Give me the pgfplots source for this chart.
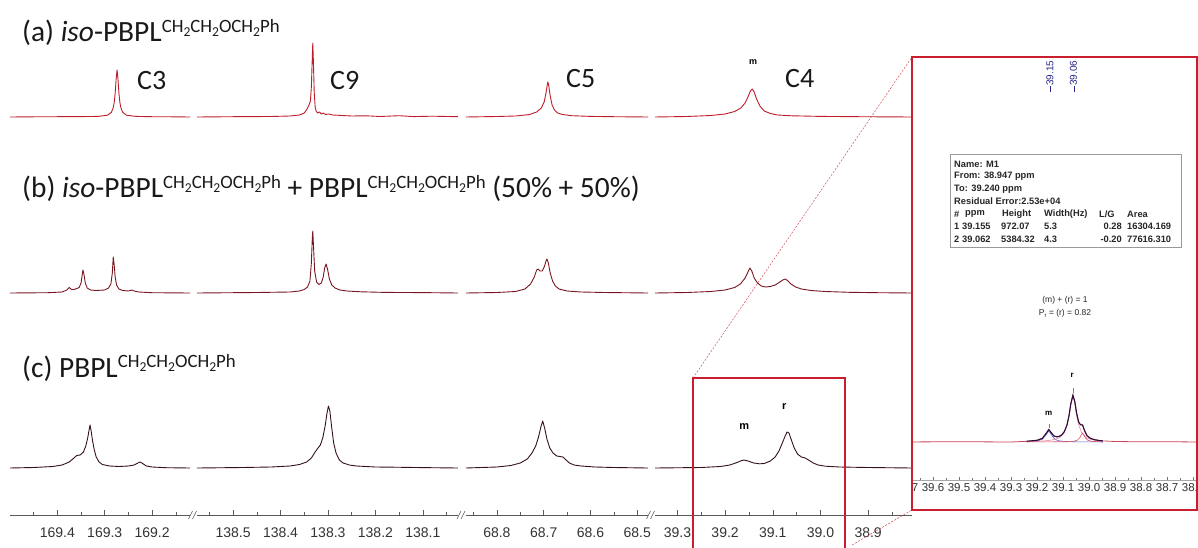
\documentclass[border=0pt]{standalone}
\usepackage{fontspec}
\setmainfont{Carlito}
\newfontfamily\arial{Liberation Sans}
\usepackage{pgfplots}
\pgfplotsset{compat=1.18}
\definecolor{specA}{RGB}{190,30,42}
\definecolor{specB}{RGB}{120,22,32}
\definecolor{specC}{RGB}{52,18,24}
\definecolor{boxred}{RGB}{200,30,45}
\definecolor{lblue}{RGB}{40,40,140}
\definecolor{sumcol}{RGB}{45,15,60}
\definecolor{expcol}{RGB}{200,70,85}
\definecolor{compb}{RGB}{90,100,210}
\definecolor{compr}{RGB}{230,140,170}
\definecolor{comps}{RGB}{225,80,95}
\newcommand{\two}{\raisebox{-3.7pt}{\fontsize{13.6}{13.6}\selectfont 2}}
\newcommand{\grp}{\raisebox{9.5pt}{\fontsize{18.8}{18.8}\selectfont CH\two CH\two OCH\two Ph}}
\pgfplotsset{mainpanel/.style={
  anchor=south west, scale only axis, height=515pt, ymin=0, ymax=515,
  x dir=reverse, axis x line=bottom, axis y line=none,
  x axis line style={-, draw=black!65, line width=0.6pt},
  tick align=inside, major tick length=5pt, minor tick length=3pt,
  tick style={black!65, line width=0.5pt},
  xticklabel style={font=\arial\fontsize{14}{14}\selectfont, text=black!80, yshift=-9pt},
  /pgf/number format/.cd, fixed, fixed zerofill, precision=1, assume math mode=true,
  /pgfplots/.cd, clip=false,
  every axis plot/.append style={line width=0.9pt, line join=round},
}}
\begin{document}
\begin{tikzpicture}[x=1pt,y=1pt]
\useasboundingbox (0,0) rectangle (1198,547);

% ---------------- Panel 1: C3 ----------------
\begin{axis}[mainpanel, at={(10pt,32pt)}, width=180pt, xmin=169.12, xmax=169.50,
  xtick={169.2,169.3,169.4}, minor xtick={169.15,169.25,169.35,169.45}]
\addplot[specA] table[x=ppm, y expr=\thisrow{h}+398] {
ppm h
169.50 0
169.45 0.2
169.40 0.3
169.35 0.4
169.314 0.6
169.294 1.8
169.286 4.7
169.282 9.4
169.280 14.5
169.278 23.5
169.276 37.6
169.274 47
169.272 37.6
169.270 23.5
169.268 14.5
169.266 9.4
169.262 4.7
169.254 1.8
169.234 0.6
169.20 0.3
169.16 0.2
169.12 0
};
\addplot[specB] table[x=ppm, y expr=\thisrow{h}+222] {
ppm h
169.50 0
169.42 0.3
169.39 1
169.380 3
169.375 5.5
169.370 3.5
169.365 3.5
169.359 4.5
169.354 5.5
169.350 10
169.347 20
169.346 23
169.344 19
169.341 10
169.337 5
169.330 3
169.318 2.5
169.300 3
169.292 5
169.287 9
169.284 20
169.282 36
169.280 28
169.278 16
169.275 8
169.270 4
169.262 2.5
169.250 2
169.243 3
169.238 2
169.228 1
169.20 0.3
169.12 0
};
\addplot[specC] table[x=ppm, y expr=\thisrow{h}+47] {
ppm h
169.50 0
169.45 0.5
169.41 1.5
169.39 3
169.375 6
169.365 10
169.359 12.5
169.352 13
169.345 16
169.340 22
169.336 30
169.333 38
169.331 43
169.329 38
169.326 28
169.322 18
169.318 11
169.312 6
169.305 3.5
169.29 2
169.27 1.5
169.25 2
169.238 3
169.230 5
169.225 6
169.220 4.5
169.212 2
169.20 1
169.17 0.3
169.12 0
};
\end{axis}

% ---------------- Panel 2: C9 ----------------
\begin{axis}[mainpanel, at={(197pt,32pt)}, width=261pt, xmin=138.026, xmax=138.576,
  xtick={138.1,138.2,138.3,138.4,138.5}, minor xtick={138.05,138.15,138.25,138.35,138.45,138.55}]
\addplot[specA] table[x=ppm, y expr=\thisrow{h}+398] {
ppm h
138.576 0
138.50 0.3
138.42 0.5
138.38 1
138.36 2
138.350 4
138.344 8
138.340 12
138.337 16
138.335 30
138.333 60
138.332 74
138.331 60
138.329 25
138.327 10
138.325 6
138.322 4
138.318 5
138.314 3
138.310 4
138.305 2.5
138.298 3
138.29 2
138.27 1.5
138.25 1
138.22 1.2
138.19 0.5
138.15 1.3
138.12 0.4
138.08 0.8
138.026 0.3
};
\addplot[specB] table[x=ppm, y expr=\thisrow{h}+222] {
ppm h
138.576 0
138.45 0.5
138.38 1
138.36 2
138.350 3.5
138.343 6
138.338 12
138.335 30
138.333 55
138.332 62
138.331 52
138.328 22
138.324 11
138.319 8.5
138.314 10
138.310 16
138.307 25
138.304 29
138.301 24
138.297 14
138.292 8
138.285 5
138.275 3
138.26 2
138.23 1.2
138.18 0.6
138.10 0.4
138.026 0
};
\addplot[specC] table[x=ppm, y expr=\thisrow{h}+47] {
ppm h
138.576 0
138.48 0.5
138.42 1
138.38 2
138.36 3.5
138.345 6
138.335 10
138.327 16
138.321 20
138.316 23
138.311 30
138.306 42
138.302 55
138.299 62
138.296 57
138.292 40
138.288 25
138.283 15
138.276 8
138.268 5
138.255 3
138.24 2
138.20 1
138.16 0.8
138.10 0.4
138.026 0
};
\end{axis}

% ---------------- Panel 3: C5 ----------------
\begin{axis}[mainpanel, at={(466pt,32pt)}, width=182pt, xmin=68.477, xmax=68.866,
  xtick={68.5,68.6,68.7,68.8}, minor xtick={68.55,68.65,68.75,68.85}]
\addplot[specA] table[x=ppm, y expr=\thisrow{h}+398] {
ppm h
68.866 0
68.80 0.5
68.76 1
68.73 2.5
68.715 5
68.705 9
68.699 15
68.695 24
68.692 33
68.691 35
68.689 31
68.686 21
68.682 12
68.677 7
68.670 4
68.66 2.5
68.64 1.3
68.60 0.6
68.55 0.3
68.477 0
};
\addplot[specB] table[x=ppm, y expr=\thisrow{h}+222] {
ppm h
68.866 0
68.80 0.5
68.76 1.5
68.74 4
68.728 9
68.720 16
68.715 23
68.712 24
68.708 22
68.703 22
68.698 27
68.695 32
68.693 34
68.690 30
68.686 20
68.681 12
68.675 7
68.667 4
68.65 2
68.62 1
68.57 0.5
68.477 0
};
\addplot[specC] table[x=ppm, y expr=\thisrow{h}+47] {
ppm h
68.866 0
68.80 1
68.77 2.5
68.75 5
68.735 9
68.725 15
68.717 22
68.711 31
68.706 41
68.702 47
68.698 40
68.693 29
68.687 20
68.680 15
68.672 12
68.665 11.5
68.659 11
68.652 8
68.645 5
68.635 3
68.62 2
68.59 1
68.55 0.5
68.477 0
};
\end{axis}

% ---------------- Panel 4: C4 ----------------
\begin{axis}[mainpanel, at={(655pt,32pt)}, width=257pt, xmin=38.808, xmax=39.347,
  xtick={38.9,39.0,39.1,39.2,39.3}, minor xtick={38.85,38.95,39.05,39.15,39.25}]
\addplot[specA] table[x=ppm, y expr=\thisrow{h}+398] {
ppm h
39.347 0
39.28 0.5
39.23 1.5
39.20 3
39.18 5.5
39.167 9
39.158 14
39.152 20
39.147 26
39.143 28
39.139 25
39.134 18
39.127 11
39.118 6
39.105 3.5
39.09 2
39.06 1.2
39.00 0.6
38.92 0.3
38.808 0
};
\addplot[specB] table[x=ppm, y expr=\thisrow{h}+222] {
ppm h
39.347 0
39.28 0.5
39.23 1.5
39.20 3
39.18 5.5
39.168 9
39.158 15
39.152 21
39.148 25
39.144 22
39.139 15
39.132 10
39.124 7
39.115 6
39.105 6.5
39.095 8
39.085 11
39.079 13
39.074 14
39.069 12.5
39.062 9
39.052 6
39.040 4
39.02 2.5
38.99 1.5
38.94 0.7
38.88 0.3
38.808 0
};
\addplot[specC] table[x=ppm, y expr=\thisrow{h}+47] {
ppm h
39.347 0
39.25 0.5
39.21 1.5
39.19 3
39.175 5.5
39.165 7.5
39.160 8
39.152 7
39.140 5
39.128 4.2
39.118 4.5
39.105 7
39.095 11
39.087 17
39.080 25
39.074 32
39.070 36
39.066 35
39.061 28
39.055 20
39.048 14
39.040 11
39.032 10
39.025 8
39.015 5
39.005 3
38.99 1.8
38.96 1
38.90 0.5
38.808 0
};
\node[font=\arial\bfseries\fontsize{9}{9}\selectfont] at (axis cs:39.141,453) {m};
\node[font=\arial\bfseries\fontsize{11}{11}\selectfont] at (axis cs:39.160,88) {m};
\node[font=\arial\bfseries\fontsize{11}{11}\selectfont] at (axis cs:39.076,108) {r};
\end{axis}

% axis breaks
\foreach \bx in {193.5,462,651.5} {
  \draw[black!65, line width=0.6pt] (\bx-5,28) -- (\bx-1,36);
  \draw[black!65, line width=0.6pt] (\bx-1,28) -- (\bx+3,36);
}

% titles
\begin{scope}[every node/.style={anchor=base west, inner sep=0, text=black!90}]
\node[font=\fontsize{29.4}{29.4}\selectfont] at (22,505) {(a) \textit{iso}-PBPL\grp};
\node[font=\fontsize{29.4}{29.4}\selectfont] at (22,349) {(b) \textit{iso}-PBPL\grp{} + PBPL\grp{} (50\% + 50\%)};
\node[font=\fontsize{29.4}{29.4}\selectfont] at (22,170) {(c) PBPL\grp};
\node[font=\fontsize{28}{28}\selectfont] at (137,457) {C3};
\node[font=\fontsize{28}{28}\selectfont] at (330,457) {C9};
\node[font=\fontsize{28}{28}\selectfont] at (566,459) {C5};
\node[font=\fontsize{28}{28}\selectfont] at (785,459) {C4};
\end{scope}

% ---------------- Inset ----------------
\fill[white] (912,37) rectangle (1197,490);
\begin{scope}
\clip (913,38) rectangle (1196,489);
\begin{axis}[anchor=south west, at={(900pt,67pt)}, scale only axis, width=298pt, height=100pt,
  xmin=38.581, xmax=39.727, x dir=reverse, ymin=0, ymax=100,
  axis x line=bottom, axis y line=none, clip=false,
  x axis line style={-, draw=black!35, line width=0.4pt},
  tick align=inside, major tick length=3pt, minor tick length=2pt,
  tick style={black!55, line width=0.4pt},
  xtick={38.6,38.7,38.8,38.9,39.0,39.1,39.2,39.3,39.4,39.5,39.6,39.7},
  minor xtick={38.65,38.75,38.85,38.95,39.05,39.15,39.25,39.35,39.45,39.55,39.65},
  xticklabel style={font=\arial\fontsize{11.5}{11.5}\selectfont, text=black!80, yshift=0pt},
  /pgf/number format/.cd, fixed, fixed zerofill, precision=1, assume math mode=true,
  /pgfplots/.cd]
\addplot[expcol, line width=0.8pt] table[x=ppm, y expr=\thisrow{h}+38] {
ppm h
39.727 0
39.50 0.3
39.30 0
39.24 0.7
39.20 1.7
39.18 3.6
39.165 8.6
39.155 12.5
39.145 9.2
39.135 6.0
39.125 5.2
39.115 5.6
39.105 7.1
39.095 10.4
39.085 16.9
39.077 26.5
39.070 38.4
39.062 46.8
39.055 40.5
39.048 28.9
39.040 20
39.033 17.3
39.025 17
39.017 11.2
39.008 6.4
38.995 3.7
38.98 2.35
38.96 1.45
38.947 1.1
38.90 0.5
38.80 0.2
38.70 0.3
38.581 0
};
\addplot[compb, line width=0.6pt] table[x=ppm, y expr=\thisrow{h}+38] {
ppm h
39.24 0.29
39.20 0.97
39.18 2.6
39.165 7.3
39.155 11
39.145 7.3
39.135 3.6
39.125 1.97
39.115 1.2
39.10 0.7
39.08 0.4
39.05 0.2
39.00 0.08
38.947 0.05
};
\addplot[compr, line width=0.6pt] table[x=ppm, y expr=\thisrow{h}+38] {
ppm h
39.24 0.41
39.20 0.69
39.177 0.98
39.145 1.85
39.125 3.1
39.115 4.3
39.105 6.2
39.095 9.6
39.084 17.2
39.076 27.4
39.069 39.4
39.062 46
39.055 39.4
39.048 27.4
39.040 17.2
39.029 9.6
39.019 6.2
39.009 4.3
38.999 3.1
38.979 1.85
38.947 0.98
};
\addplot[comps, line width=0.6pt] table[x=ppm, y expr=\thisrow{h}+38] {
ppm h
39.24 0.05
39.08 0.29
39.06 0.68
39.045 1.8
39.035 4.5
39.03 7.2
39.025 9
39.02 7.2
39.015 4.5
39.005 1.8
38.99 0.68
38.96 0.2
38.947 0.1
};
\addplot[sumcol, line width=1.1pt] table[x=ppm, y expr=\thisrow{h}+38] {
ppm h
39.24 0.72
39.20 1.7
39.18 3.6
39.165 8.6
39.155 12.5
39.145 9.2
39.135 6.0
39.125 5.2
39.115 5.6
39.105 7.1
39.095 10.4
39.085 16.9
39.077 26.5
39.070 38.4
39.062 46.8
39.055 40.5
39.048 28.9
39.040 20
39.033 17.3
39.025 17
39.017 11.2
39.008 6.4
38.995 3.7
38.98 2.35
38.96 1.45
38.947 1.13
};
\draw[black!50, line width=0.4pt] (axis cs:39.155,52) -- (axis cs:39.155,56);
\draw[black!50, line width=0.4pt] (axis cs:39.062,87) -- (axis cs:39.062,92);
\node[font=\arial\bfseries\fontsize{8}{8}\selectfont] at (axis cs:39.155,67) {m};
\node[font=\arial\bfseries\fontsize{8}{8}\selectfont] at (axis cs:39.065,105) {r};
\node[rotate=90, anchor=west, inner sep=0, text=lblue, font=\arial\fontsize{10}{10}\selectfont] at (axis cs:39.15,388) {\rule[0.25em]{6pt}{0.5pt}39.15};
\node[rotate=90, anchor=west, inner sep=0, text=lblue, font=\arial\fontsize{10}{10}\selectfont] at (axis cs:39.06,388) {\rule[0.25em]{6pt}{0.5pt}39.06};
\end{axis}
\end{scope}

% fit result box
\draw[black!40, line width=0.6pt, fill=white] (950,393) rectangle (1181,300);
\begin{scope}[every node/.style={inner sep=0, font=\arial\bfseries\fontsize{9.3}{9.3}\selectfont, text=black!85}]
\node[anchor=west] at (954,383) {Name: M1};
\node[anchor=west] at (954,370.5) {From: 38.947 ppm};
\node[anchor=west] at (954,358) {To: 39.240 ppm};
\node[anchor=west] at (954,345.5) {Residual Error:2.53e+04};
\node[anchor=west] at (954,333) {\#};
\node[anchor=west] at (965,333) {ppm};
\node[anchor=west] at (1002,333) {Height};
\node[anchor=west] at (1044,333) {Width(Hz)};
\node[anchor=west] at (1099,333) {L/G};
\node[anchor=west] at (1127,333) {Area};
\node[anchor=west] at (954,320.5) {1};
\node[anchor=west] at (962,320.5) {39.155};
\node[anchor=west] at (1001,320.5) {972.07};
\node[anchor=west] at (1044,320.5) {5.3};
\node[anchor=east] at (1122,320.5) {0.28};
\node[anchor=west] at (1127,320.5) {16304.169};
\node[anchor=west] at (954,308) {2};
\node[anchor=west] at (962,308) {39.062};
\node[anchor=west] at (1001,308) {5384.32};
\node[anchor=west] at (1044,308) {4.3};
\node[anchor=east] at (1122,308) {-0.20};
\node[anchor=west] at (1127,308) {77616.310};
\end{scope}
\node[font=\arial\fontsize{8.5}{8.5}\selectfont, text=black!85] at (1065,247) {(m) + (r) = 1};
\node[font=\arial\fontsize{8.5}{8.5}\selectfont, text=black!85] at (1065,234) {P\raisebox{-2pt}{\fontsize{6}{6}\selectfont r} = (r) = 0.82};

% red boxes and connectors
\draw[boxred, line width=1.8pt] (912,37) rectangle (1197,490);
\draw[boxred, line width=1.8pt] (693,-5) rectangle (845,169);
\draw[boxred!80, line width=0.5pt, dash pattern=on 2pt off 1.5pt] (693,169) -- (912,490);
\draw[boxred!80, line width=0.5pt, dash pattern=on 2pt off 1.5pt] (852,2) -- (912,37);
\end{tikzpicture}
\end{document}
